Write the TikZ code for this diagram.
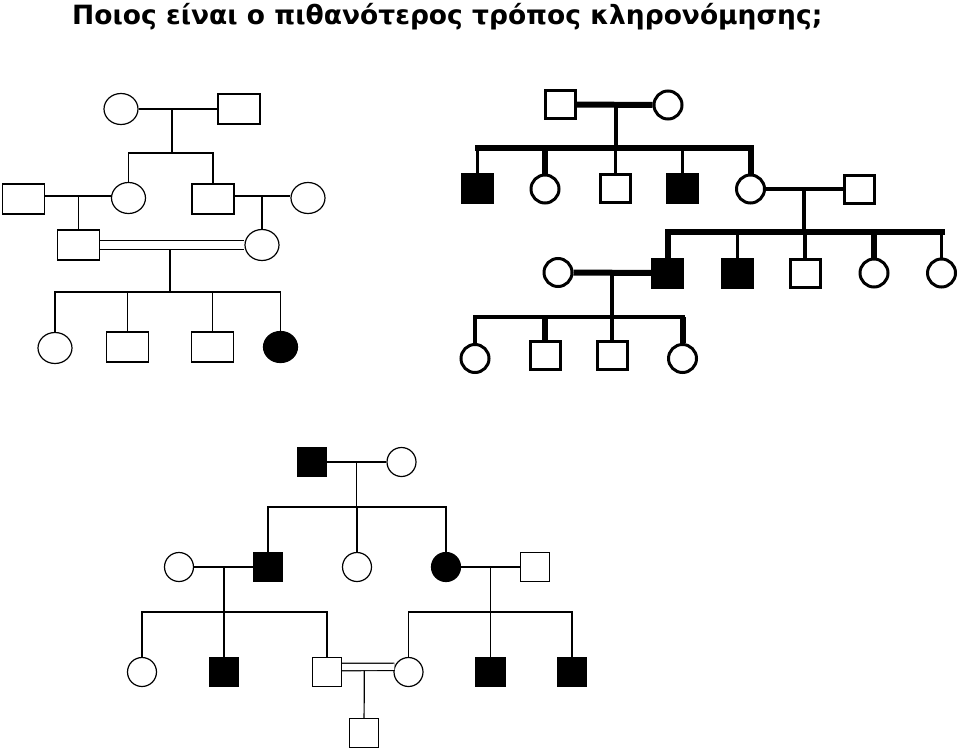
\documentclass[tikz,border=0pt]{standalone}
\usepackage{fontspec}
\setmainfont{DejaVu Sans}
\usetikzlibrary{shapes.geometric}

\begin{document}
\begin{tikzpicture}[x=1pt,y=-1pt,
    male1/.style={draw,line width=1.2pt,minimum width=42pt,minimum height=30pt,inner sep=0pt},
    female1/.style={draw,ellipse,line width=1.2pt,minimum width=34pt,minimum height=31pt,inner sep=0pt},
    male2/.style={draw,line width=3pt,minimum width=30pt,minimum height=28pt,inner sep=0pt},
    female2/.style={draw,circle,line width=3pt,minimum size=28pt,inner sep=0pt},
    male3/.style={draw,line width=1.2pt,minimum size=29pt,inner sep=0pt},
    female3/.style={draw,circle,line width=1.2pt,minimum size=29pt,inner sep=0pt},
    aff/.style={fill=black},
    thinline/.style={line width=1.2pt},
    thin2/.style={line width=3.2pt},
    thick2/.style={line width=6pt},
    wide2/.style={line width=6pt,line cap=rect}]
    \useasboundingbox (0,0) rectangle (960,752);
    \node[anchor=base west,inner sep=0pt,font=\bfseries\fontsize{26.5}{30}\selectfont] (title) at (72,25)
        {Ποιος είναι ο πιθανότερος τρόπος κληρονόμησης;};

    \node[female1] (p1a) at (121,109) {};
    \node[male1] (p1b) at (239,109) {};
    \node[female1] (p1c) at (128.5,198) {};
    \node[male1] (p1d) at (213,199) {};
    \node[male1] (p1e) at (23.5,199) {};
    \node[female1] (p1f) at (308,198) {};
    \node[male1] (p1g) at (78.5,245) {};
    \node[female1] (p1h) at (262,245) {};
    \node[female1] (p1i) at (55,348) {};
    \node[male1] (p1j) at (127.5,347) {};
    \node[male1] (p1k) at (212.5,347) {};
    \node[female1,aff] (p1l) at (280.5,347) {};
    \coordinate (p1m) at (172,109);
    \coordinate (p1s) at (172,153);
    \coordinate (p1m2) at (78.5,196);
    \coordinate (p1m3) at (262,196);
    \coordinate (p1m4) at (170,249);
    \coordinate (p1s2) at (170,292);
    \begin{scope}[thinline]
        \draw (p1a) -- (p1b);
        \draw (p1m) -- (p1s);
        \foreach \c in {p1c,p1d} \draw (p1s) -| (\c);
        \draw (p1e.east |- p1m2) -- (p1c.west |- p1m2);
        \draw (p1d.east |- p1m3) -- (p1f.west |- p1m3);
        \draw (p1m2) -- (p1g);
        \draw (p1m3) -- (p1h);
        \draw[double,double distance=7.4pt] (p1g) -- (p1h);
        \draw (p1m4) -- (p1s2);
        \foreach \c in {p1i,p1j,p1k,p1l} \draw (p1s2) -| (\c);
    \end{scope}

    \node[male2] (q1a) at (560.5,104.5) {};
    \node[female2] (q1b) at (668,105) {};
    \node[male2,aff] (q1c) at (477.5,188) {};
    \node[female2] (q1d) at (545,189) {};
    \node[male2] (q1e) at (615.5,188) {};
    \node[male2,aff] (q1f) at (682.5,188) {};
    \node[female2] (q1g) at (750.5,189) {};
    \node[male2] (q1h) at (859.5,189) {};
    \node[female2] (q2a) at (558,272.5) {};
    \node[male2,aff] (q2b) at (667.5,273) {};
    \node[male2,aff] (q2c) at (737.5,273) {};
    \node[male2] (q2d) at (805,273) {};
    \node[female2] (q2e) at (874,273) {};
    \node[female2] (q2f) at (941.5,273) {};
    \node[female2] (q3a) at (475,358.5) {};
    \node[male2] (q3b) at (545,355.5) {};
    \node[male2] (q3c) at (612,355.5) {};
    \node[female2] (q3d) at (682.5,358.5) {};
    \coordinate (q1m) at (616,104.5);
    \coordinate (q1s) at (616,148);
    \coordinate (q2m) at (804,189);
    \coordinate (q2s) at (804,232);
    \coordinate (q3m) at (612,273);
    \coordinate (q3s) at (612,317);
    \draw[thick2] (q1a) -- (q1b);
    \draw[thin2] (q1m) -- (q1s);
    \draw[wide2] (q1c |- q1s) -- (q1g |- q1s);
    \foreach \c in {q1c,q1e,q1f} \draw[thin2] (\c |- q1s) -- (\c);
    \foreach \c in {q1d,q1g} \draw[thick2] (\c |- q1s) -- (\c);
    \draw[thin2] (q1g) -- (q1h);
    \draw[thin2] (q2m) -- (q2s);
    \draw[wide2] (q2b |- q2s) -- (q2f |- q2s);
    \foreach \c in {q2c,q2d,q2f} \draw[thin2] (\c |- q2s) -- (\c);
    \foreach \c in {q2b,q2e} \draw[thick2] (\c |- q2s) -- (\c);
    \draw[thick2] (q2a) -- (q2b);
    \draw[thin2] (q3m) -- (q3s);
    \draw[wide2,line width=4.5pt] (q3a |- q3s) -- (q3d |- q3s);
    \foreach \c in {q3a,q3c} \draw[thin2] (\c |- q3s) -- (\c);
    \foreach \c in {q3b,q3d} \draw[thick2] (\c |- q3s) -- (\c);

    \node[male3,aff] (r1a) at (312,462) {};
    \node[female3] (r1b) at (401.5,462) {};
    \node[male3,aff] (r1c) at (268,567) {};
    \node[female3] (r1d) at (357,567) {};
    \node[female3,aff] (r1e) at (446,567) {};
    \node[female3] (r1f) at (179,567) {};
    \node[male3] (r1g) at (535,567) {};
    \node[female3] (r2a) at (142,672) {};
    \node[male3,aff] (r2b) at (224,672) {};
    \node[male3] (r2c) at (327,672) {};
    \node[female3] (r3a) at (408.5,672) {};
    \node[male3,aff] (r3b) at (490.5,672) {};
    \node[male3,aff] (r3c) at (572,672) {};
    \node[male3] (r4a) at (364,733) {};
    \coordinate (r1m) at (356.7,462);
    \coordinate (r1s) at (356.7,507);
    \coordinate (r2m) at (224,567);
    \coordinate (r2s) at (224,612);
    \coordinate (r3m) at (490.3,567);
    \coordinate (r3s) at (490.3,612);
    \coordinate (r4m) at (364.3,670.7);
    \begin{scope}[thinline]
        \draw (r1a) -- (r1b);
        \draw (r1m) -- (r1s);
        \foreach \c in {r1c,r1d,r1e} \draw (r1s) -| (\c);
        \draw (r1f) -- (r1c);
        \draw (r1e) -- (r1g);
        \draw (r2m) -- (r2s);
        \foreach \c in {r2a,r2b,r2c} \draw (r2s) -| (\c);
        \draw (r3m) -- (r3s);
        \foreach \c in {r3a,r3b,r3c} \draw (r3s) -| (\c);
        \draw[double,double distance=6.2pt] ([yshift=5pt]r2c.east) -- (r3a.160.5);
        \draw (r4m) -- (r4a);
    \end{scope}
\end{tikzpicture}
\end{document}
